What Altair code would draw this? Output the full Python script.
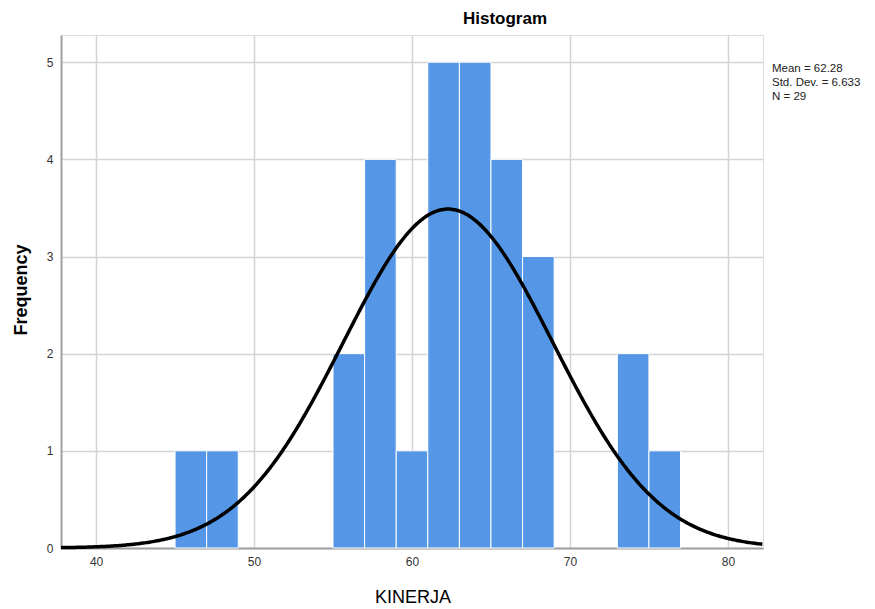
import altair as alt
import pandas as pd
import numpy as np

# Histogram bins (width 2) and their frequencies
bin_start = [45, 47, 55, 57, 59, 61, 63, 65, 67, 73, 75]
bin_end = [47, 49, 57, 59, 61, 63, 65, 67, 69, 75, 77]
freq = [1, 1, 2, 4, 1, 5, 5, 4, 3, 2, 1]

# Summary statistics shown on the chart
mean = 62.28
sd = 6.633
n = 29
bin_width = 2

x_ticks = [40, 50, 60, 70, 80]
y_ticks = [0, 1, 2, 3, 4, 5]
stats_text = "Mean = 62.28\nStd. Dev. = 6.633\nN = 29"

x_domain = [37.78, 82.22]
y_domain = [0, 5.28]

W, H = 702, 513
FONT = "Liberation Sans"

bars_df = pd.DataFrame({"start": bin_start, "end": bin_end, "count": freq})

# Fitted normal curve implied by the displayed mean, SD and N
xs = np.arange(x_domain[0], x_domain[1] + 0.05, 0.1)
curve_df = pd.DataFrame({
    "x": xs,
    "count": n * bin_width / (sd * np.sqrt(2 * np.pi)) * np.exp(-0.5 * ((xs - mean) / sd) ** 2),
})

xscale = alt.Scale(domain=x_domain, nice=False, zero=False)
yscale = alt.Scale(domain=y_domain, nice=False)

bars = alt.Chart(bars_df).mark_rect(
    color="#5596E6", stroke="white", strokeWidth=1
).encode(
    x=alt.X("start:Q", scale=xscale, axis=alt.Axis(
        values=x_ticks, title=None, grid=True, gridColor="#D4D4D4", gridWidth=1.5,
        domainColor="#A0A0A0", domainWidth=2, ticks=False, labelFont=FONT,
        labelFontSize=12, labelColor="#333333", labelPadding=8)),
    x2="end:Q",
    y=alt.Y("count:Q", scale=yscale, axis=alt.Axis(
        values=y_ticks, title=None, grid=True, gridColor="#D4D4D4", gridWidth=1.5,
        domainColor="#A0A0A0", domainWidth=2, ticks=False, labelFont=FONT,
        labelFontSize=12, labelColor="#333333", labelPadding=8, format="d")),
    y2=alt.datum(0),
)

curve = alt.Chart(curve_df).mark_line(color="black", strokeWidth=3.5).encode(
    x=alt.X("x:Q", scale=xscale),
    y=alt.Y("count:Q", scale=yscale),
)

stats = alt.Chart(pd.DataFrame({"t": [stats_text]})).mark_text(
    align="left", baseline="top", font=FONT, fontSize=11.5, color="#222222",
    lineBreak="\n", lineHeight=14
).encode(text="t:N", x=alt.value(W + 9), y=alt.value(28))

title = alt.Chart(pd.DataFrame({"t": ["Histogram"]})).mark_text(
    align="center", baseline="middle", font=FONT, fontSize=17, fontWeight="bold", color="black"
).encode(text="t:N", x=alt.value(444), y=alt.value(-16))

xlabel = alt.Chart(pd.DataFrame({"t": ["KINERJA"]})).mark_text(
    align="center", baseline="middle", font=FONT, fontSize=18, fontWeight=500, color="black"
).encode(text="t:N", x=alt.value(352), y=alt.value(H + 50))

ylabel = alt.Chart(pd.DataFrame({"t": ["Frequency"]})).mark_text(
    align="center", baseline="middle", font=FONT, fontSize=18, fontWeight="bold",
    color="black", angle=270
).encode(text="t:N", x=alt.value(-39), y=alt.value(255))

chart = alt.layer(bars, curve, stats, title, xlabel, ylabel).properties(
    width=W, height=H,
    autosize=alt.AutoSizeParams(type="none"),
    padding={"left": 61, "top": 35, "right": 112, "bottom": 61},
).configure_view(stroke=None).configure(background="white")

chart.save("out.html", embed_options={"renderer": "svg", "actions": False})
